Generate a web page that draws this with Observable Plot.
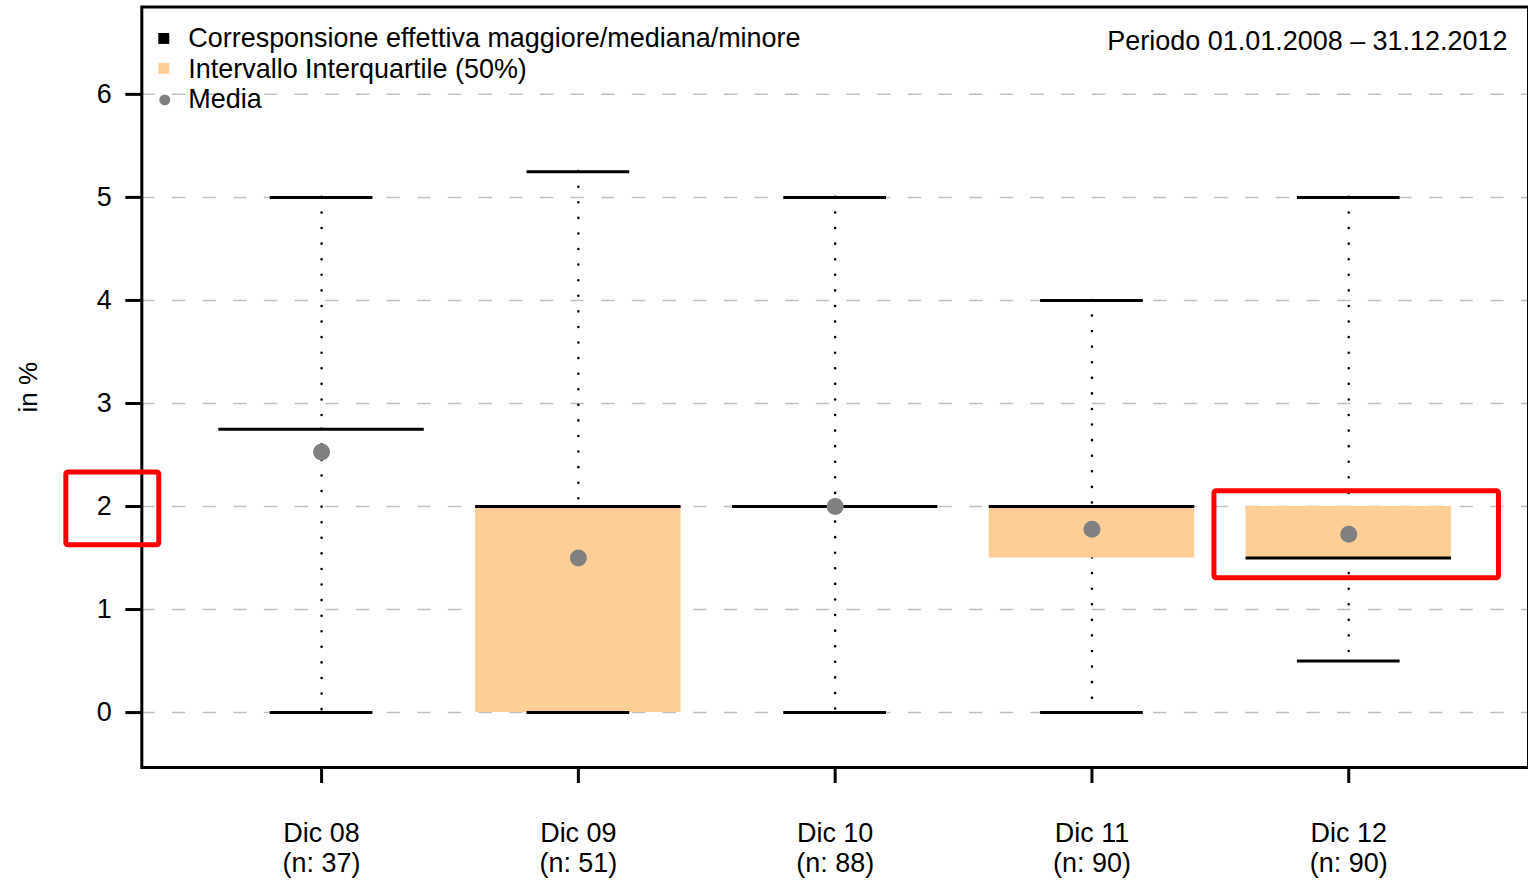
<!DOCTYPE html>
<html>
<head>
<meta charset="utf-8">
<script src="https://cdn.jsdelivr.net/npm/d3@7"></script>
<script src="https://cdn.jsdelivr.net/npm/@observablehq/plot@0.6"></script>
<style>
  html, body { margin: 0; padding: 0; background: #fff; overflow: hidden; }
  #chart svg { display: block; }
</style>
</head>
<body>
<div id="chart"></div>
<script>
// ---- data ----
const categories = ["Dic 08", "Dic 09", "Dic 10", "Dic 11", "Dic 12"];
const counts = [37, 51, 88, 90, 90];
const minima = [0, 0, 0, 0, 0.5];
const q1s = [2.75, 0, 2, 1.5, 1.5];
const medians = [2.75, 2, 2, 2, 1.5];
const q3s = [2.75, 2, 2, 2, 2];
const maxima = [5, 5.25, 5, 4, 5];
const means = [2.53, 1.5, 2, 1.78, 1.73];
const yTicks = [0, 1, 2, 3, 4, 5, 6];
const legendLabels = [
  "Corresponsione effettiva maggiore/mediana/minore",
  "Intervallo Interquartile (50%)",
  "Media"
];
const periodLabel = "Periodo 01.01.2008 \u2013 31.12.2012";
const yLabel = "in %";
const highlightTick = 2;          // highlighted y tick
const highlightCategory = "Dic 12"; // highlighted box

const rows = categories.map((c, k) => ({
  i: k + 1, cat: c, n: counts[k], min: minima[k], q1: q1s[k],
  median: medians[k], q3: q3s[k], max: maxima[k], mean: means[k]
}));
const hl = rows.filter(d => d.cat === highlightCategory);

const FONT = "'Liberation Sans', Arial, Helvetica, sans-serif";
const BOX = "#FDCF97";
const GRAY = "#808080";
const FS = 27;

const chart = Plot.plot({
  width: 1530,
  height: 880,
  marginLeft: 141.5,
  marginRight: 0,
  marginTop: 6.5,
  marginBottom: 112,
  style: { fontFamily: FONT, fontSize: FS + "px", color: "black", background: "white", overflow: "visible" },
  x: { type: "linear", domain: [0.3, 5.7] },
  y: { domain: [-0.533, 6.848] },
  marks: [
    // grid
    Plot.ruleY(yTicks, { stroke: "#c0c0c0", strokeWidth: 1.5, strokeDasharray: "13.3,17.4" }),
    // whiskers (dotted)
    Plot.ruleX(rows, { x: "i", y1: "max", y2: "q3", stroke: "black", strokeWidth: 2.6, strokeLinecap: "round", strokeDasharray: "0,15.6" }),
    Plot.ruleX(rows, { x: "i", y1: "q1", y2: "min", stroke: "black", strokeWidth: 2.6, strokeLinecap: "round", strokeDasharray: "0,15.6" }),
    // interquartile boxes
    Plot.rect(rows, { x1: d => d.i - 0.4, x2: d => d.i + 0.4, y1: "q1", y2: "q3", fill: BOX }),
    // medians
    Plot.ruleY(rows, { y: "median", x1: d => d.i - 0.4, x2: d => d.i + 0.4, stroke: "black", strokeWidth: 3 }),
    // caps
    Plot.ruleY(rows, { y: "max", x1: d => d.i - 0.2, x2: d => d.i + 0.2, stroke: "black", strokeWidth: 3 }),
    Plot.ruleY(rows, { y: "min", x1: d => d.i - 0.2, x2: d => d.i + 0.2, stroke: "black", strokeWidth: 3 }),
    // means
    Plot.dot(rows, { x: "i", y: "mean", r: 8.5, fill: GRAY }),
    // frame
    Plot.frame({ stroke: "black", strokeWidth: 3 }),
    // axes
    Plot.axisY({ ticks: yTicks, tickSize: 16, tickPadding: 14, strokeWidth: 3, fontSize: FS, label: null, tickFormat: d => String(d) }),
    Plot.axisX({
      ticks: rows.map(d => d.i), tickSize: 16, tickPadding: 37.5, strokeWidth: 3, fontSize: FS,
      lineHeight: 30 / FS, label: null,
      tickFormat: v => categories[v - 1] + "\n(n: " + counts[v - 1] + ")"
    }),
    // y label
    Plot.text([yLabel], { frameAnchor: "left", rotate: -90, dx: -113.5, textAnchor: "middle", lineAnchor: "middle", fontSize: 26, fill: "black" }),
    // legend
    Plot.dot([legendLabels[0]], { frameAnchor: "top-left", dx: 22, dy: 31.5, symbol: "square", r: 6.2, fill: "black" }),
    Plot.dot([legendLabels[1]], { frameAnchor: "top-left", dx: 22, dy: 61.5, symbol: "square", r: 6.2, fill: BOX }),
    Plot.dot([legendLabels[2]], { frameAnchor: "top-left", dx: 23, dy: 93, r: 5.5, fill: GRAY }),
    Plot.text([legendLabels[0]], { frameAnchor: "top-left", dx: 46.5, dy: 31.5, textAnchor: "start", lineAnchor: "middle", fontSize: FS, fill: "black" }),
    Plot.text([legendLabels[1]], { frameAnchor: "top-left", dx: 46.5, dy: 62, textAnchor: "start", lineAnchor: "middle", fontSize: FS, fill: "black" }),
    Plot.text([legendLabels[2]], { frameAnchor: "top-left", dx: 46.5, dy: 92.5, textAnchor: "start", lineAnchor: "middle", fontSize: FS, fill: "black" }),
    Plot.text([periodLabel], { frameAnchor: "top-right", dx: -21, dy: 34.5, textAnchor: "end", lineAnchor: "middle", fontSize: FS, fill: "black" }),
    // highlight annotations
    Plot.rect([highlightTick], { x1: 0.006, x2: 0.368, y1: d => d - 0.376, y2: d => d + 0.331, fill: "none", stroke: "red", strokeWidth: 5, rx: 2 }),
    Plot.rect(hl, { x1: d => d.i - 0.523, x2: d => d.i + 0.585, y1: d => d.q1 - 0.196, y2: d => d.q3 + 0.147, fill: "none", stroke: "red", strokeWidth: 5, rx: 2 })
  ]
});
document.getElementById("chart").append(chart);
</script>
</body>
</html>
